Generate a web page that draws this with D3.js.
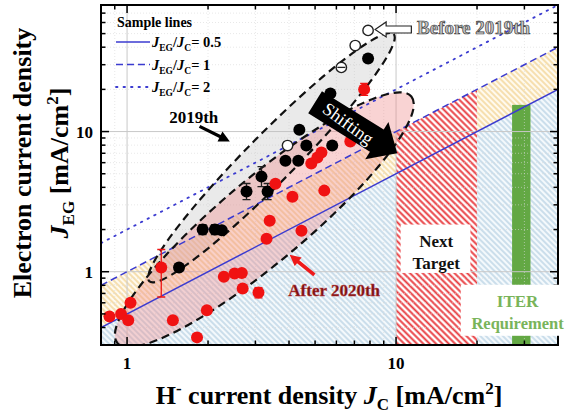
<html>
<meta charset="utf-8" />
<script src="https://d3js.org/d3.v7.min.js"></script>
<body style="margin:0">
<svg id="chart" width="569" height="416"></svg>
<script>
// 2019th (filled black)
const jcBlack = [1.56, 1.91, 2.12, 2.25, 2.78, 3.16, 3.33, 3.88, 4.33, 4.37, 4.64, 5.79, 5.7, 7.87];
const jegBlack = [1.07, 2.0, 2.0, 1.98, 3.73, 4.77, 3.73, 6.2, 6.2, 10.3, 7.95, 7.95, 18.7, 33.2];
const errLoBlack = [null, 1.84, 1.84, null, 3.27, 4.05, 3.27, null, null, null, null, null, null, null];
const errHiBlack = [null, 2.17, 2.17, null, 4.26, 5.62, 4.26, null, null, null, null, null, null, null];
// before 2019th (open)
const jcOpen = [3.95, 6.26, 7.05, 7.87];
const jegOpen = [7.95, 28.7, 41.1, 52.7];
// after 2020th (red)
const jcRed = [0.86, 0.95, 1.01, 1.03, 1.34, 1.48, 1.82, 1.98, 2.29, 2.51, 2.67, 2.69, 3.08, 3.30, 3.39, 3.56, 4.12, 4.45, 4.84, 5.10, 5.28, 5.41, 6.76, 7.61];
const jegRed = [0.48, 0.50, 0.45, 0.60, 1.07, 0.45, 0.34, 0.53, 0.92, 0.97, 0.98, 0.76, 0.71, 1.72, 2.31, 4.25, 3.43, 1.96, 5.91, 6.52, 7.08, 3.79, 8.48, 20.0];
const errLoRed = [null, null, null, null, 0.66, null, null, null, null, null, null, null, 0.65, null, null, null, null, null, null, null, null, null, null, 18.1];
const errHiRed = [null, null, null, null, 1.44, null, null, null, null, null, null, null, 0.77, null, null, null, null, null, null, null, null, null, null, 22.1];

const ratios = [0.5, 1, 2];
const ratioLabels = ["0.5", "1", "2"];
const nextTarget = [10, 20];
const iterBand = [27, 31.6, 15.5];
const xTickLabels = [1, 10];
const yTickLabels = [1, 10];

const svg = d3.select("#chart");
const W = 569, H = 416;
const mLeft = 101, mRight = 558, mTop = 5, mBottom = 345;
const x = d3.scaleLog().domain([0.8, 40]).range([mLeft, mRight]);
const y = d3.scaleLog().domain([0.3, 80]).range([mBottom, mTop]);
const serif = "'Liberation Serif', 'Times New Roman', serif";
const blue = "#3b3bd0";

svg.append("rect").attr("width", W).attr("height", H).attr("fill", "white");

const defs = svg.append("defs");
function hatch(id, color, bg, size, w) {
  const p = defs.append("pattern").attr("id", id)
    .attr("patternUnits", "userSpaceOnUse")
    .attr("width", size).attr("height", size)
    .attr("patternTransform", "rotate(-45)");
  p.append("rect").attr("width", size).attr("height", size).attr("fill", bg);
  p.append("line").attr("x1", size / 2).attr("y1", 0).attr("x2", size / 2).attr("y2", size)
    .attr("stroke", color).attr("stroke-width", w);
}
hatch("hBlue", "#a9c8de", "#f4f9fc", 4, 1.1);
hatch("hYellow", "#f1cd85", "#fffaee", 4, 1.2);
hatch("hRed", "#e8383c", "#ffffff", 4.5, 1.9);

defs.append("clipPath").attr("id", "plot").append("rect")
  .attr("x", mLeft).attr("y", mTop).attr("width", mRight - mLeft).attr("height", mBottom - mTop);

const g = svg.append("g").attr("clip-path", "url(#plot)");
const xd = x.domain(), yd = y.domain();
const line = d3.line().x(d => x(d[0])).y(d => y(d[1]));

// regions
g.append("path").attr("fill", "url(#hBlue)")
  .attr("d", line([[xd[0], yd[0]], [xd[0], ratios[0] * xd[0]], [xd[1], ratios[0] * xd[1]], [xd[1], yd[0]]]) + "Z");
g.append("path").attr("fill", "url(#hYellow)")
  .attr("d", line([[xd[0], ratios[0] * xd[0]], [xd[0], ratios[1] * xd[0]], [xd[1], ratios[1] * xd[1]], [xd[1], ratios[0] * xd[1]]]) + "Z");
g.append("path").attr("fill", "url(#hRed)")
  .attr("d", line([[nextTarget[0], yd[0]], [nextTarget[0], ratios[1] * nextTarget[0]], [nextTarget[1], ratios[1] * nextTarget[1]], [nextTarget[1], yd[0]]]) + "Z");
g.append("rect").attr("fill", "#63a844")
  .attr("x", x(iterBand[0])).attr("width", x(iterBand[1]) - x(iterBand[0]))
  .attr("y", y(iterBand[2])).attr("height", mBottom - y(iterBand[2]));

// grid
const xMinor = [0.8, 0.9, 2, 3, 4, 5, 6, 7, 8, 9, 20, 30, 40];
const yMinor = [0.3, 0.4, 0.5, 0.6, 0.7, 0.8, 0.9, 2, 3, 4, 5, 6, 7, 8, 9, 20, 30, 40, 50, 60, 70, 80];
g.selectAll(".gx").data(xMinor).join("line").attr("x1", d => x(d)).attr("x2", d => x(d))
  .attr("y1", mTop).attr("y2", mBottom).attr("stroke", "#d8d8d8").attr("stroke-width", 0.6).attr("stroke-dasharray", "1,2");
g.selectAll(".gy").data(yMinor).join("line").attr("y1", d => y(d)).attr("y2", d => y(d))
  .attr("x1", mLeft).attr("x2", mRight).attr("stroke", "#d8d8d8").attr("stroke-width", 0.6).attr("stroke-dasharray", "1,2");
g.selectAll(".gX").data(xTickLabels).join("line").attr("x1", d => x(d)).attr("x2", d => x(d))
  .attr("y1", mTop).attr("y2", mBottom).attr("stroke", "#c8c8c8").attr("stroke-width", 1);
g.selectAll(".gY").data(yTickLabels).join("line").attr("y1", d => y(d)).attr("y2", d => y(d))
  .attr("x1", mLeft).attr("x2", mRight).attr("stroke", "#c8c8c8").attr("stroke-width", 1);

// ellipses
function ell(p1, p2, b) {
  const x1 = x(p1[0]), y1 = y(p1[1]), x2 = x(p2[0]), y2 = y(p2[1]);
  return {
    cx: (x1 + x2) / 2, cy: (y1 + y2) / 2, a: Math.hypot(x2 - x1, y2 - y1) / 2, b: b,
    ang: Math.atan2(y2 - y1, x2 - x1) * 180 / Math.PI
  };
}
const grayE = ell([1.21, 0.855], [9.79, 49.7], 24);
const pinkE = ell([0.92, 0.31], [11.4, 17.8], 42);
function drawEll(e, fill, stroke) {
  g.append("ellipse").attr("cx", 0).attr("cy", 0).attr("rx", e.a).attr("ry", e.b)
    .attr("transform", `translate(${e.cx},${e.cy}) rotate(${e.ang})`)
    .attr("fill", fill).attr("stroke", stroke ? "#111" : "none")
    .attr("stroke-width", 2.2).attr("stroke-dasharray", "8,5");
}
drawEll(grayE, "rgba(190,190,190,0.32)", false);
drawEll(pinkE, "rgba(240,140,140,0.38)", false);

// ratio lines
const dash = ["none", "7,4", "1.5,6"];
ratios.forEach((r, i) => {
  g.append("path").attr("d", line(xd.map(v => [v, r * v])))
    .attr("fill", "none").attr("stroke", blue).attr("stroke-width", i == 2 ? 1.8 : 1.5)
    .attr("stroke-linecap", i == 2 ? "round" : "butt")
    .attr("stroke-dasharray", dash[i]);
});

drawEll(grayE, "none", true);
drawEll(pinkE, "none", true);

// points
function errBars(xs, lo, hi, color) {
  xs.forEach((v, i) => {
    if (lo[i] == null) return;
    const px = x(v);
    g.append("path").attr("d", `M${px - 4},${y(hi[i])}H${px + 4}M${px},${y(hi[i])}V${y(lo[i])}M${px - 4},${y(lo[i])}H${px + 4}`)
      .attr("stroke", color).attr("stroke-width", 1.3).attr("fill", "none");
  });
}
errBars(jcBlack, errLoBlack, errHiBlack, "#222");
errBars(jcRed, errLoRed, errHiRed, "#ee1515");
g.selectAll(".pb").data(jcBlack).join("circle")
  .attr("cx", d => x(d)).attr("cy", (d, i) => y(jegBlack[i])).attr("r", 6).attr("fill", "#000");
g.selectAll(".po").data(jcOpen).join("circle")
  .attr("cx", d => x(d)).attr("cy", (d, i) => y(jegOpen[i])).attr("r", 5.2)
  .attr("fill", "white").attr("stroke", "#222").attr("stroke-width", 1.4);
g.append("line").attr("x1", x(jcOpen[1]) - 4).attr("x2", x(jcOpen[1]) + 4)
  .attr("y1", y(jegOpen[1])).attr("y2", y(jegOpen[1])).attr("stroke", "#222").attr("stroke-width", 1.3);
g.selectAll(".pr").data(jcRed).join("circle")
  .attr("cx", d => x(d)).attr("cy", (d, i) => y(jegRed[i])).attr("r", 6).attr("fill", "#f01212");

// arrows
function arrow(s, t, w, h, hl, fill, stroke, sw) {
  const sx = x(s[0]), sy = y(s[1]), tx = x(t[0]), ty = y(t[1]);
  const L = Math.hypot(tx - sx, ty - sy), ux = (tx - sx) / L, uy = (ty - sy) / L, nx = -uy, ny = ux;
  const bx = tx - ux * hl, by = ty - uy * hl;
  const pts = [[sx + nx * w, sy + ny * w], [bx + nx * w, by + ny * w], [bx + nx * h, by + ny * h], [tx, ty],
    [bx - nx * h, by - ny * h], [bx - nx * w, by - ny * w], [sx - nx * w, sy - ny * w]];
  svg.append("path").attr("d", "M" + pts.map(p => p.join(",")).join("L") + "Z")
    .attr("fill", fill).attr("stroke", stroke || "none").attr("stroke-width", sw || 0);
  return { sx, sy, tx, ty, ang: Math.atan2(ty - sy, tx - sx) * 180 / Math.PI };
}
const sh = arrow([5.0, 16.2], [10.1, 7.0], 13, 22, 24, "#000");
const shx = (sh.sx + sh.tx) / 2 - 8, shy = (sh.sy + sh.ty) / 2 - 4;
svg.append("text").attr("x", shx).attr("y", shy)
  .attr("transform", `rotate(${sh.ang + 4},${shx},${shy})`)
  .attr("text-anchor", "middle").attr("dominant-baseline", "central")
  .attr("font-family", serif).attr("font-size", 18).attr("fill", "white").text("Shifting");

arrow([1.86, 10.9], [2.41, 8.5], 1.6, 5.5, 11, "#000");
svg.append("text").attr("x", x(1.77)).attr("y", y(12.8) + 6).attr("text-anchor", "middle")
  .attr("font-family", serif).attr("font-weight", "bold").attr("font-size", 17).text("2019th");

arrow([11.4, 53.5], [8.36, 53.5], 3.5, 7.5, 11, "white", "#222", 1.2);
svg.append("text").attr("x", x(11.97)).attr("y", y(54.4) + 6)
  .attr("font-family", serif).attr("font-weight", "bold").attr("font-size", 19)
  .attr("fill", "#c4c4c4").attr("stroke", "#3a3a3a").attr("stroke-width", 0.7).text("Before 2019th");

arrow([4.97, 0.95], [4.02, 1.32], 1.8, 5.5, 11, "#ee1a1a");
svg.append("text").attr("x", x(5.89)).attr("y", y(0.743) + 6).attr("text-anchor", "middle")
  .attr("font-family", serif).attr("font-weight", "bold").attr("font-size", 17)
  .attr("fill", "#7c1212").attr("stroke", "#c04040").attr("stroke-width", 0.4).text("After 2020th");

// Next Target box
svg.append("rect").attr("x", x(10.4)).attr("y", y(2.17)).attr("width", x(18.9) - x(10.4))
  .attr("height", y(0.98) - y(2.17)).attr("fill", "white");
["Next", "Target"].forEach((t, i) => {
  svg.append("text").attr("x", x(14.1)).attr("y", y(2.17) + 22 + i * 22).attr("text-anchor", "middle")
    .attr("font-family", serif).attr("font-weight", "bold").attr("font-size", 17).attr("fill", "#111").text(t);
});

// frame + ticks
svg.append("rect").attr("x", mLeft).attr("y", mTop).attr("width", mRight - mLeft).attr("height", mBottom - mTop)
  .attr("fill", "none").attr("stroke", "#000").attr("stroke-width", 2);
const ticks = svg.append("g").attr("stroke", "#000");
xMinor.concat(xTickLabels).forEach(v => {
  const L = xTickLabels.includes(v) ? 8 : 4.5, px = x(v);
  ticks.append("line").attr("x1", px).attr("x2", px).attr("y1", mBottom).attr("y2", mBottom - L).attr("stroke-width", 1.5);
  ticks.append("line").attr("x1", px).attr("x2", px).attr("y1", mTop).attr("y2", mTop + L).attr("stroke-width", 1.5);
});
yMinor.concat(yTickLabels).forEach(v => {
  const L = yTickLabels.includes(v) ? 8 : 4.5, py = y(v);
  ticks.append("line").attr("y1", py).attr("y2", py).attr("x1", mLeft).attr("x2", mLeft + L).attr("stroke-width", 1.5);
  ticks.append("line").attr("y1", py).attr("y2", py).attr("x1", mRight).attr("x2", mRight - L).attr("stroke-width", 1.5);
});
xTickLabels.forEach(v => svg.append("text").attr("x", x(v)).attr("y", 369).attr("text-anchor", "middle")
  .attr("font-family", serif).attr("font-weight", "bold").attr("font-size", 17).text(v));
yTickLabels.forEach(v => svg.append("text").attr("x", 93).attr("y", y(v) + 6).attr("text-anchor", "end")
  .attr("font-family", serif).attr("font-weight", "bold").attr("font-size", 17).text(v));

// ITER box
svg.append("rect").attr("x", x(17.4)).attr("y", y(0.807)).attr("width", W - x(17.4))
  .attr("height", y(0.349) - y(0.807)).attr("fill", "white");
["ITER", "Requirement"].forEach((t, i) => {
  svg.append("text").attr("x", x(28.3)).attr("y", y(0.62) + 6 + i * 22).attr("text-anchor", "middle")
    .attr("font-family", serif).attr("font-weight", "bold").attr("font-size", i ? 16.5 : 17)
    .attr("fill", "#79b45a").text(t);
});

// legend
const lg = svg.append("g").attr("font-family", serif).attr("font-weight", "bold");
lg.append("text").attr("x", 117).attr("y", 27).attr("font-size", 14).text("Sample lines");
ratios.forEach((r, i) => {
  const ly = 42 + i * 22.5;
  lg.append("line").attr("x1", 116).attr("x2", 150).attr("y1", ly).attr("y2", ly)
    .attr("stroke", blue).attr("stroke-width", i == 2 ? 1.8 : 1.5)
    .attr("stroke-linecap", i == 2 ? "round" : "butt").attr("stroke-dasharray", dash[i]);
  const t = lg.append("text").attr("x", 152).attr("y", ly + 5).attr("font-size", 14.5);
  t.append("tspan").attr("font-style", "italic").text("J");
  t.append("tspan").attr("font-size", 9.5).attr("dy", 4).text("EG");
  t.append("tspan").attr("dy", -4).text("/");
  t.append("tspan").attr("font-style", "italic").text("J");
  t.append("tspan").attr("font-size", 9.5).attr("dy", 4).text("C");
  t.append("tspan").attr("dy", -4).text("= " + ratioLabels[i]);
});

// axis titles
const yt = svg.append("g").attr("font-family", serif).attr("font-weight", "bold").attr("font-size", 26);
yt.append("text").attr("transform", "translate(31,163) rotate(-90)").attr("text-anchor", "middle")
  .text("Electron current density");
const yt2 = yt.append("text").attr("transform", "translate(68,163) rotate(-90)").attr("text-anchor", "middle");
yt2.append("tspan").attr("font-style", "italic").text("J");
yt2.append("tspan").attr("font-size", 17).attr("dy", 6).text("EG");
yt2.append("tspan").attr("dy", -6).text(" [mA/cm");
yt2.append("tspan").attr("font-size", 17).attr("dy", -10).text("2");
yt2.append("tspan").attr("dy", 10).text("]");

const xt = svg.append("text").attr("x", 329).attr("y", 404).attr("text-anchor", "middle")
  .attr("font-family", serif).attr("font-weight", "bold").attr("font-size", 26);
xt.append("tspan").text("H");
xt.append("tspan").attr("font-size", 17).attr("dy", -10).text("-");
xt.append("tspan").attr("dy", 10).text(" current density ");
xt.append("tspan").attr("font-style", "italic").text("J");
xt.append("tspan").attr("font-size", 17).attr("dy", 6).text("C");
xt.append("tspan").attr("dy", -6).text(" [mA/cm");
xt.append("tspan").attr("font-size", 17).attr("dy", -10).text("2");
xt.append("tspan").attr("dy", 10).text("]");
</script>
</body>
</html>
